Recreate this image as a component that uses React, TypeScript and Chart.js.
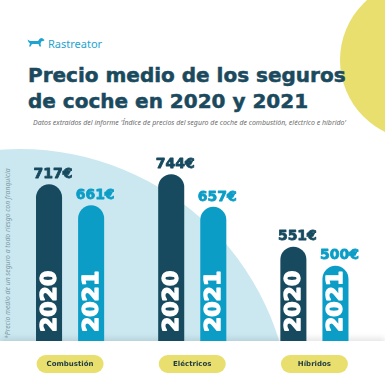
import React, { useEffect, useRef } from "react";
import { Chart, registerables } from "chart.js";

Chart.register(...registerables);

const categories = ["Combustión", "Eléctricos", "Híbridos"];
const seriesNames = ["2020", "2021"];
const values2020 = [717, 744, 551];
const values2021 = [661, 657, 500];
const currency = "€";

const DARK = "#174a5f";
const BLUE = "#0c9dc6";
const YELLOW = "#e9df6e";
const LIGHTBLUE = "#cbe8f1";

const labelPlugin = {
  id: "infoLabels",
  afterDatasetsDraw(chart: any) {
    const ctx = chart.ctx;
    const xScale = chart.scales.x;
    const base = chart.chartArea.bottom;
    chart.data.datasets.forEach((ds: any, di: number) => {
      const meta = chart.getDatasetMeta(di);
      meta.data.forEach((bar: any, i: number) => {
        const v = ds.data[i];
        // value label
        ctx.save();
        ctx.fillStyle = ds.backgroundColor;
        ctx.strokeStyle = ds.backgroundColor;
        ctx.lineWidth = 0.8;
        ctx.lineJoin = "round";
        ctx.font = "bold 14px 'DejaVu Sans'";
        ctx.textAlign = "center";
        ctx.textBaseline = "bottom";
        ctx.fillText(`${v}${currency}`, bar.x + 4, bar.y - 3);
        ctx.strokeText(`${v}${currency}`, bar.x + 4, bar.y - 3);
        ctx.restore();
        // year label inside bar
        ctx.save();
        ctx.fillStyle = "#ffffff";
        ctx.strokeStyle = "#ffffff";
        ctx.lineWidth = 1.4;
        ctx.lineJoin = "round";
        ctx.font = "bold 22px 'DejaVu Sans'";
        ctx.textAlign = "left";
        ctx.textBaseline = "alphabetic";
        ctx.translate(bar.x, base - 9);
        ctx.rotate(-Math.PI / 2);
        ctx.fillText(ds.label, 0, 7);
        ctx.strokeText(ds.label, 0, 7);
        ctx.restore();
      });
    });
    // category pills
    chart.data.labels.forEach((lab: string, i: number) => {
      const x = xScale.getPixelForTick(i);
      const y = base + 23;
      const w = 67;
      const h = 18;
      ctx.save();
      ctx.fillStyle = YELLOW;
      ctx.beginPath();
      ctx.roundRect(x - w / 2, y - h / 2, w, h, h / 2);
      ctx.fill();
      ctx.fillStyle = "#1d3a44";
      ctx.font = "bold 7px 'DejaVu Sans'";
      ctx.textAlign = "center";
      ctx.textBaseline = "middle";
      ctx.fillText(lab, x, y + 0.5);
      ctx.restore();
    });
  },
};

function Dog() {
  return (
    <svg width="18" height="11" viewBox="0 0 18 11" style={{ position: "absolute", left: 27, top: 37 }}>
      <path
        d="M0.5 2.5 L3 4 L11 4 L13 1.5 L15 1 L17.5 3 L16.5 4 L14.5 4.2 L13.5 6.5 L14 9.5 L12.5 9.5 L11.5 7 L5 7 L3.5 9.5 L2 9.5 L3 6.5 L1.5 5 Z"
        fill="#1fa3d0"
      />
      <path d="M13 1.5 L12.5 4 L14 4 Z" fill="#1fa3d0" />
    </svg>
  );
}

export default function App() {
  const ref = useRef<HTMLCanvasElement | null>(null);
  useEffect(() => {
    if (!ref.current) return;
    const chart = new Chart(ref.current, {
      type: "bar",
      data: {
        labels: categories,
        datasets: [
          {
            label: seriesNames[0],
            data: values2020,
            backgroundColor: DARK,
            borderRadius: { topLeft: 13, topRight: 13, bottomLeft: 0, bottomRight: 0 },
            borderSkipped: "bottom",
            barPercentage: 0.619,
            categoryPercentage: 0.689,
          },
          {
            label: seriesNames[1],
            data: values2021,
            backgroundColor: BLUE,
            borderRadius: { topLeft: 13, topRight: 13, bottomLeft: 0, bottomRight: 0 },
            borderSkipped: "bottom",
            barPercentage: 0.619,
            categoryPercentage: 0.689,
          },
        ],
      },
      options: {
        animation: false,
        responsive: false,
        devicePixelRatio: 1,
        layout: { padding: { left: 9, right: 9.5, top: 78, bottom: 44 } },
        plugins: { legend: { display: false }, tooltip: { enabled: false } },
        scales: {
          x: { display: false },
          y: { display: false, min: 300, max: 1000 },
        },
      },
      plugins: [labelPlugin],
    } as any);
    return () => chart.destroy();
  }, []);

  const titleLine: React.CSSProperties = {
    position: "absolute",
    left: 28,
    fontFamily: "'DejaVu Sans'",
    fontWeight: 700,
    fontSize: 20,
    lineHeight: "20px",
    color: "#1b4a5e",
    whiteSpace: "nowrap",
    WebkitTextStroke: "0.5px #1b4a5e",
  };

  return (
    <div
      style={{
        position: "fixed",
        left: 0,
        top: 0,
        width: 385,
        height: 385,
        overflow: "hidden",
        background: "#ffffff",
      }}
    >
      {/* light blue arc */}
      <div style={{ position: "absolute", left: 0, top: 0, width: 385, height: 341, overflow: "hidden" }}>
        <div
          style={{
            position: "absolute",
            left: 20 - 271,
            top: 420 - 271,
            width: 542,
            height: 542,
            borderRadius: "50%",
            background: LIGHTBLUE,
          }}
        />
      </div>
      {/* yellow circle */}
      <div
        style={{
          position: "absolute",
          left: 420 - 80,
          top: 60 - 80,
          width: 160,
          height: 160,
          borderRadius: "50%",
          background: YELLOW,
        }}
      />
      {/* bottom white panel */}
      <div
        style={{
          position: "absolute",
          left: 0,
          top: 341,
          width: 385,
          height: 44,
          background: "#ffffff",
          boxShadow: "0 -3px 6px rgba(0,0,0,0.10)",
        }}
      />
      <Dog />
      <div
        style={{
          position: "absolute",
          left: 48,
          top: 38,
          fontFamily: "'Noto Sans'",
          fontSize: 11,
          lineHeight: "11px",
          color: "#1fa3d0",
          whiteSpace: "nowrap",
        }}
      >
        Rastreator
      </div>
      <div style={{ ...titleLine, top: 65 }}>Precio medio de los seguros</div>
      <div style={{ ...titleLine, top: 91 }}>de coche en 2020 y 2021</div>
      <div
        style={{
          position: "absolute",
          left: 33,
          top: 119,
          fontFamily: "'Noto Sans'",
          fontStyle: "italic",
          fontSize: 7,
          lineHeight: "7px",
          color: "#6d6d6d",
          whiteSpace: "nowrap",
        }}
      >
        Datos extraídos del informe 'Índice de precios del seguro de coche de combustión, eléctrico e híbrido'
      </div>
      <div
        style={{
          position: "absolute",
          left: 4,
          top: 339,
          transformOrigin: "0 0",
          transform: "rotate(-90deg)",
          fontFamily: "'Noto Sans'",
          fontStyle: "italic",
          fontSize: 6.8,
          lineHeight: "7px",
          color: "#7f9aa3",
          whiteSpace: "nowrap",
        }}
      >
        *Precio medio de un seguro a todo riesgo con franquicia
      </div>
      <canvas
        ref={ref}
        width={385}
        height={385}
        style={{ position: "absolute", left: 0, top: 0, width: 385, height: 385 }}
      />
    </div>
  );
}
